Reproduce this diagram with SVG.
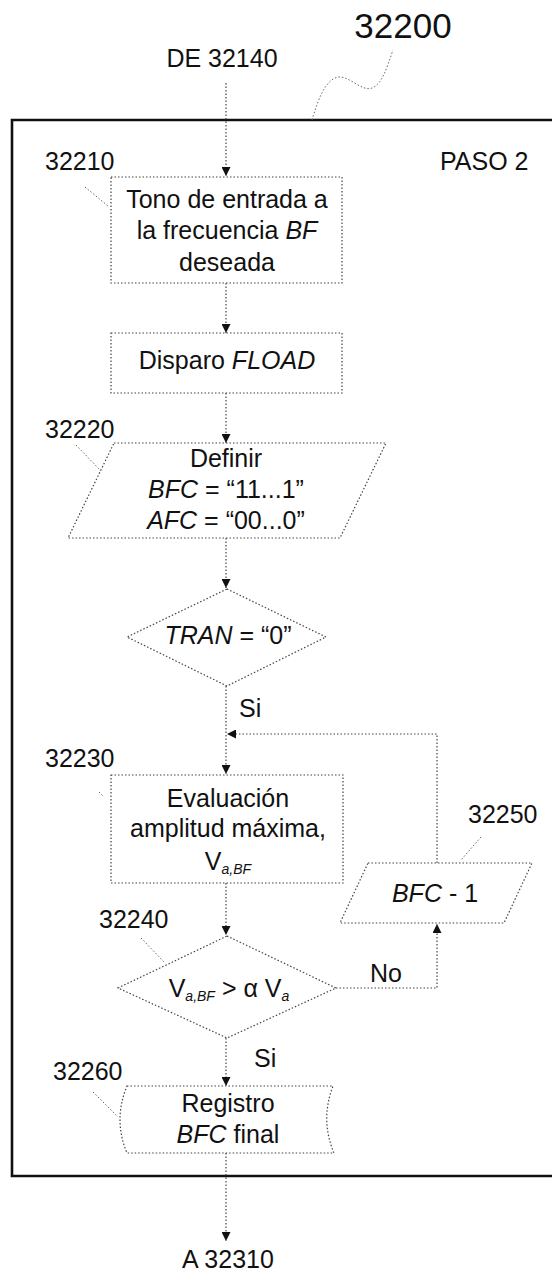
<svg xmlns="http://www.w3.org/2000/svg" width="552" height="1278" viewBox="0 0 552 1278">
<style>
text{font-family:"Liberation Sans",Arial,sans-serif;font-size:25px;fill:#111}
.c{text-anchor:middle}
.i{font-style:italic}
.sub{font-size:14px;font-style:italic}
.big{font-size:35px}
.shape{fill:none;stroke:#444;stroke-width:1.2;stroke-dasharray:1.5 2}
.conn{fill:none;stroke:#444;stroke-width:1.2;stroke-dasharray:1.5 2}
.lead{fill:none;stroke:#666;stroke-width:1;stroke-dasharray:1.5 2}
.frame{fill:none;stroke:#111;stroke-width:2.6}
</style>
<defs>
<marker id="ah" viewBox="0 0 10 10" refX="10" refY="5" markerWidth="13" markerHeight="9" orient="auto" markerUnits="userSpaceOnUse">
<path d="M0,0 L10,5 L0,10 z" fill="#111"/>
</marker>
</defs>

<g id="frame">
<path class="frame" d="M560,120 L12,120 L12,1176 L560,1176"/>
<path class="lead" d="M312,120 C318,100 325,80 338,77 C350,76 362,92 372,88 C382,84 386,70 393,50"/>
<text class="big" x="403" y="38" text-anchor="middle">32200</text>
<text x="440" y="170">PASO 2</text>
</g>

<g id="terminals">
<text class="c" x="222" y="67">DE 32140</text>
<text class="c" x="228" y="1268">A 32310</text>
</g>

<g id="connectors">
<line class="conn" x1="226" y1="83" x2="226" y2="176" marker-end="url(#ah)"/>
<line class="conn" x1="226" y1="283" x2="226" y2="333" marker-end="url(#ah)"/>
<line class="conn" x1="226" y1="393" x2="226" y2="443" marker-end="url(#ah)"/>
<line class="conn" x1="226" y1="538" x2="226" y2="588" marker-end="url(#ah)"/>
<line class="conn" x1="226" y1="686" x2="226" y2="774" marker-end="url(#ah)"/>
<polyline class="conn" points="437,863 437,734 227,734" marker-end="url(#ah)"/>
<line class="conn" x1="226" y1="883" x2="226" y2="935" marker-end="url(#ah)"/>
<polyline class="conn" points="336,988 437,988 437,924" marker-end="url(#ah)"/>
<line class="conn" x1="226" y1="1038" x2="226" y2="1086" marker-end="url(#ah)"/>
<line class="conn" x1="226" y1="1153" x2="226" y2="1241" marker-end="url(#ah)"/>
<text x="239" y="717">Si</text>
<text x="370" y="982">No</text>
<text x="254" y="1067">Si</text>
</g>

<g id="n32210">
<rect class="shape" x="111" y="177" width="231" height="106"/>
<text class="c" x="227" y="208">Tono de entrada a</text>
<text class="c" x="227" y="239">la frecuencia <tspan class="i">BF</tspan></text>
<text class="c" x="227" y="271">deseada</text>
<text x="45" y="170">32210</text>
<line class="lead" x1="85" y1="187" x2="108" y2="206"/>
</g>

<g id="nFLOAD">
<rect class="shape" x="111" y="333" width="231" height="60"/>
<text class="c" x="227" y="369">Disparo <tspan class="i">FLOAD</tspan></text>
</g>

<g id="n32220">
<polygon class="shape" points="114,443 386,443 340,538 68,538"/>
<text class="c" x="226" y="467">Definir</text>
<text class="c" x="226" y="498"><tspan class="i">BFC</tspan> = “11...1”</text>
<text class="c" x="226" y="529"><tspan class="i">AFC</tspan> = “00...0”</text>
<text x="45" y="438">32220</text>
<line class="lead" x1="76" y1="445" x2="101" y2="471"/>
</g>

<g id="nTRAN">
<polygon class="shape" points="227,589 326,637 227,686 127,637"/>
<text class="c" x="228" y="644"><tspan class="i">TRAN</tspan> = “0”</text>
</g>

<g id="n32230">
<rect class="shape" x="111" y="775" width="232" height="108"/>
<text class="c" x="228" y="807">Evaluación</text>
<text class="c" x="228" y="837">amplitud máxima,</text>
<text class="c" x="228" y="870">V<tspan class="sub" dy="4">a,BF</tspan></text>
<text x="45" y="767">32230</text>
<line class="lead" x1="99" y1="792" x2="104" y2="797"/>
</g>

<g id="n32250">
<polygon class="shape" points="368,863 532,863 504,923 340,923"/>
<text class="c" x="435" y="902"><tspan class="i">BFC</tspan> - 1</text>
<text x="468" y="823">32250</text>
<line class="lead" x1="481" y1="837" x2="461" y2="860"/>
</g>

<g id="n32240">
<polygon class="shape" points="227,936 336,988 227,1038 118,988"/>
<text class="c" x="229" y="997">V<tspan class="sub" dy="4">a,BF</tspan><tspan dy="-4"> &gt; α V</tspan><tspan class="sub" dy="4">a</tspan></text>
<text x="99" y="928">32240</text>
<line class="lead" x1="141" y1="938" x2="164" y2="962"/>
</g>

<g id="n32260">
<path class="shape" d="M127,1086 L333,1086 Q320,1120 334,1153 L127,1153 Q113,1120 127,1086 Z"/>
<text class="c" x="228" y="1112">Registro</text>
<text class="c" x="228" y="1143"><tspan class="i">BFC</tspan> final</text>
<text x="53" y="1080">32260</text>
<line class="lead" x1="93" y1="1092" x2="118" y2="1117"/>
</g>
</svg>
